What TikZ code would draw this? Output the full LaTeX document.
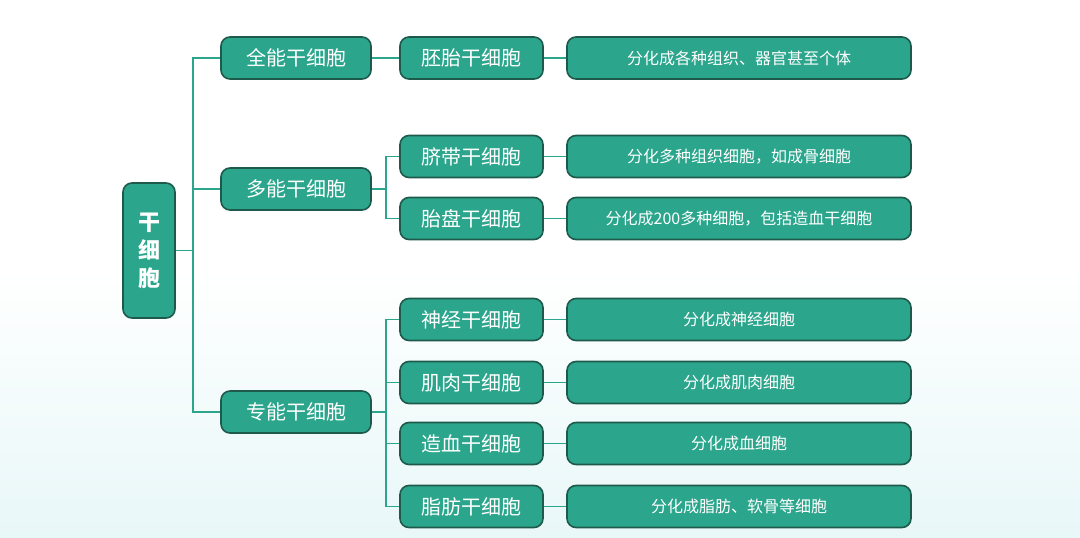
\documentclass[tikz,border=0pt]{standalone}
\usepackage{fontspec}
\setmainfont{Noto Sans CJK SC}
\begin{document}
\begin{tikzpicture}[x=1pt,y=-1pt]
\definecolor{teal1}{HTML}{2BA68C}
\definecolor{edge1}{HTML}{1E5A4C}
\definecolor{bgb}{HTML}{E8F7F8}
\tikzset{box/.style={draw=edge1,line width=1.6pt,fill=teal1,rounded corners=9pt,text=white,inner sep=0pt},
 conn/.style={draw=teal1,line width=1.5pt}}
\shade[top color=white,bottom color=bgb,middle color=white] (0,0) rectangle (1080,538);
\useasboundingbox (0,0) rectangle (1080,538);
\node[box,minimum width=52pt,minimum height=135pt,font=\bfseries\fontsize{22}{28}\selectfont,align=center] (r) at (149,250.5) {干\\细\\胞};
\newcommand\lone[3]{\node[box,minimum width=150pt,minimum height=42pt,font=\fontsize{20}{24}\selectfont] (#1) at (296,#2) {#3};}
\newcommand\ltwo[3]{\node[box,minimum width=143pt,minimum height=42pt,font=\fontsize{20}{24}\selectfont] (#1) at (471.5,#2) {#3};}
\newcommand\lthree[3]{\node[box,minimum width=344pt,minimum height=42pt,font=\fontsize{16}{20}\selectfont] (#1) at (739,#2) {#3};}
\lone{a}{58}{全能干细胞}
\lone{b}{189}{多能干细胞}
\lone{c}{412}{专能干细胞}
\ltwo{a1}{58}{胚胎干细胞}
\ltwo{b1}{156.5}{脐带干细胞}
\ltwo{b2}{218.5}{胎盘干细胞}
\ltwo{c1}{319.5}{神经干细胞}
\ltwo{c2}{382.5}{肌肉干细胞}
\ltwo{c3}{443.5}{造血干细胞}
\ltwo{c4}{506.5}{脂肪干细胞}
\lthree{a1t}{58}{分化成各种组织、器官甚至个体}
\lthree{b1t}{156.5}{分化多种组织细胞，如成骨细胞}
\lthree{b2t}{218.5}{分化成200多种细胞，包括造血干细胞}
\lthree{c1t}{319.5}{分化成神经细胞}
\lthree{c2t}{382.5}{分化成肌肉细胞}
\lthree{c3t}{443.5}{分化成血细胞}
\lthree{c4t}{506.5}{分化成脂肪、软骨等细胞}
\coordinate (j) at (193,250.5);
\draw[conn] (r.east) -- (j);
\foreach \n in {a,b,c}{\draw[conn] (j) |- (\n.west);}
\draw[conn] (a.east) -- (a1.west);
\foreach \p/\k in {b/b1,b/b2,c/c1,c/c2,c/c3,c/c4}{\draw[conn] (\p.east) -- ++(14,0) |- (\k.west);}
\foreach \k in {a1,b1,b2,c1,c2,c3,c4}{\draw[conn] (\k.east) -- (\k t.west);}
\end{tikzpicture}
\end{document}
